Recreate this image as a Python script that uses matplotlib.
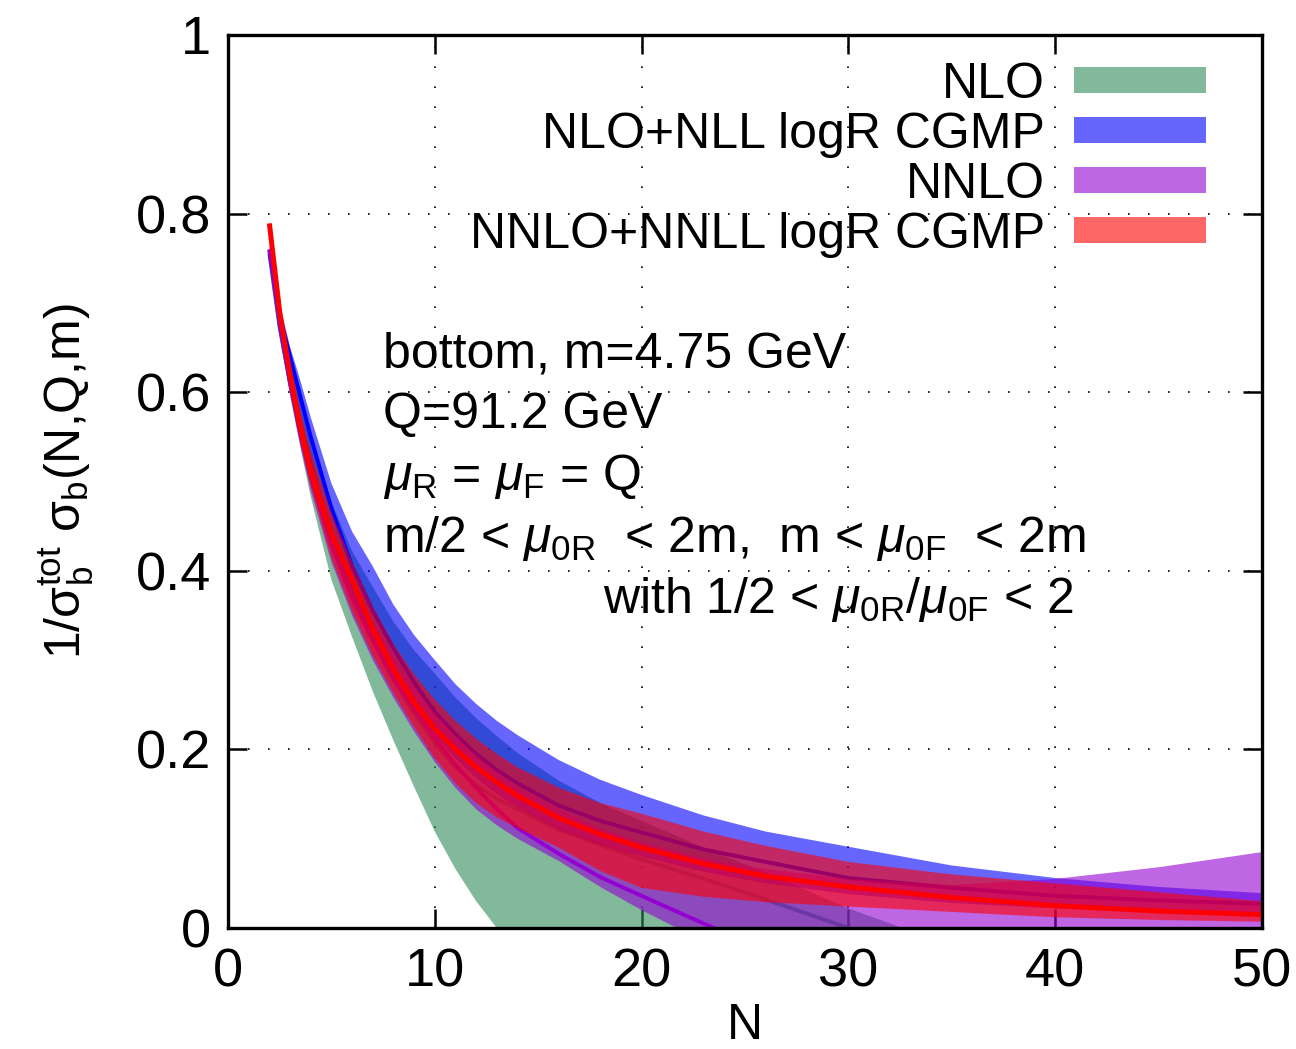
import matplotlib
matplotlib.use("Agg")
import matplotlib.pyplot as plt
from matplotlib.patches import Rectangle

# ---------------- data ----------------
N = [2, 2.5, 3, 3.5, 4, 5, 6, 7, 8, 9, 10, 11, 12, 13, 14, 16, 18, 20, 23, 26, 30, 35, 40, 45, 50]

# NLO band (green)
nlo_lo = [0.752, 0.67, 0.596, 0.538, 0.483, 0.39, 0.326, 0.265, 0.21, 0.158, 0.108, 0.066, 0.03,
          0.0, -0.03, -0.09, -0.15, -0.21, -0.30, -0.39, -0.50, -0.62, -0.74, -0.86, -0.98]
nlo_hi = [0.758, 0.685, 0.632, 0.592, 0.552, 0.477, 0.422, 0.382, 0.343, 0.311, 0.285, 0.258, 0.235,
          0.215, 0.196, 0.165, 0.14, 0.12, 0.09, 0.062, 0.022, -0.02, -0.06, -0.10, -0.14]
nlo_c = [0.755, 0.672, 0.61, 0.563, 0.52, 0.44, 0.375, 0.322, 0.278, 0.24, 0.208, 0.18, 0.16,
         0.145, 0.133, 0.11, 0.093, 0.077, 0.055, 0.032, 0.0, -0.04, -0.08, -0.12, -0.16]

# NLO+NLL logR CGMP band (blue)
nll_lo = [0.755, 0.67, 0.61, 0.56, 0.52, 0.44, 0.375, 0.325, 0.283, 0.246, 0.215, 0.19, 0.168,
          0.15, 0.135, 0.11, 0.093, 0.08, 0.063, 0.05, 0.038, 0.028, 0.022, 0.018, 0.015]
nll_hi = [0.762, 0.699, 0.651, 0.613, 0.572, 0.498, 0.444, 0.405, 0.362, 0.328, 0.30, 0.273, 0.251,
          0.232, 0.216, 0.188, 0.166, 0.149, 0.126, 0.108, 0.091, 0.07, 0.056, 0.046, 0.039]
nll_c = [0.759, 0.685, 0.64, 0.595, 0.55, 0.47, 0.405, 0.355, 0.313, 0.275, 0.242, 0.217, 0.195,
         0.177, 0.162, 0.137, 0.12, 0.107, 0.088, 0.074, 0.056, 0.045, 0.036, 0.031, 0.027]

# NNLO band (purple)
nnlo_lo = [0.755, 0.668, 0.60, 0.54, 0.49, 0.41, 0.35, 0.30, 0.258, 0.22, 0.186, 0.157, 0.133,
           0.115, 0.10, 0.075, 0.046, 0.02, -0.015, -0.05, -0.09, -0.13, -0.17, -0.20, -0.23]
nnlo_hi = [0.765, 0.685, 0.62, 0.565, 0.52, 0.45, 0.395, 0.345, 0.305, 0.27, 0.24, 0.215, 0.193,
           0.175, 0.158, 0.133, 0.112, 0.096, 0.078, 0.066, 0.055, 0.048, 0.055, 0.068, 0.085]
nnlo_c = [0.76, 0.675, 0.61, 0.553, 0.505, 0.43, 0.37, 0.322, 0.28, 0.245, 0.212, 0.183, 0.157,
          0.133, 0.112, 0.083, 0.057, 0.036, 0.005, -0.025, -0.06, -0.10, -0.14, -0.18, -0.22]

# NNLO+NNLL logR CGMP band (red)
nnll_lo = [0.786, 0.68, 0.605, 0.545, 0.495, 0.415, 0.355, 0.305, 0.263, 0.225, 0.19, 0.162, 0.14,
           0.124, 0.112, 0.09, 0.064, 0.045, 0.035, 0.029, 0.024, 0.018, 0.012, 0.009, 0.007]
nnll_hi = [0.792, 0.70, 0.635, 0.58, 0.535, 0.465, 0.41, 0.36, 0.318, 0.284, 0.256, 0.232, 0.212,
           0.195, 0.18, 0.157, 0.14, 0.128, 0.108, 0.092, 0.074, 0.06, 0.05, 0.04, 0.03]
nnll_c = [0.789, 0.69, 0.62, 0.56, 0.512, 0.442, 0.39, 0.335, 0.29, 0.253, 0.223, 0.20, 0.18,
          0.163, 0.148, 0.123, 0.105, 0.09, 0.072, 0.058, 0.046, 0.034, 0.025, 0.019, 0.015]

labels = ["NLO", "NLO+NLL logR CGMP", "NNLO", "NNLO+NNLL logR CGMP"]
colors = ["#2e8b57", "#0000ff", "#9400d3", "#ff0000"]
bands = [(nlo_lo, nlo_hi, nlo_c), (nll_lo, nll_hi, nll_c),
         (nnlo_lo, nnlo_hi, nnlo_c), (nnll_lo, nnll_hi, nnll_c)]

xticks = [0, 10, 20, 30, 40, 50]
yticks = [0, 0.2, 0.4, 0.6, 0.8, 1]
yticklabels = ["0", "0.2", "0.4", "0.6", "0.8", "1"]

info_lines = ["bottom, m=4.75 GeV",
              "Q=91.2 GeV",
              r"$\mu_{\rm R}$ = $\mu_{\rm F}$ = Q",
              r"m/2 < $\mu_{\rm 0R}$  < 2m,  m < $\mu_{\rm 0F}$  < 2m"]
info_last = r"with 1/2 < $\mu_{\rm 0R}$/$\mu_{\rm 0F}$ < 2"

# ---------------- style ----------------
FONT = "Liberation Sans"
plt.rcParams["font.family"] = [FONT, "DejaVu Sans"]
plt.rcParams["mathtext.fontset"] = "custom"
plt.rcParams["mathtext.rm"] = FONT
plt.rcParams["mathtext.it"] = FONT + ":italic"
plt.rcParams["mathtext.bf"] = FONT + ":bold"
FS = 36
FS_TICK = 39

W, H = 1296, 1049
fig = plt.figure(figsize=(W / 100, H / 100), dpi=100)
L, R, B, T = 228, 1262, 928, 35
ax = fig.add_axes([L / W, (H - B) / H, (R - L) / W, (B - T) / H])

lw_line = [2.8, 2.8, 2.8, 3.6]
for (lo, hi, c), col, lw in zip(bands, colors, lw_line):
    ax.fill_between(N, lo, hi, facecolor=col, alpha=0.6, linewidth=0, zorder=2)
    ax.plot(N, c, color=col, lw=lw, zorder=2, solid_capstyle="butt",
            solid_joinstyle="round")

ax.set_xlim(0, 50)
ax.set_ylim(0, 1)
ax.set_xticks(xticks)
ax.set_xticklabels([str(t) for t in xticks])
ax.set_yticks(yticks)
ax.set_yticklabels(yticklabels)
ax.set_axisbelow(True)
ax.grid(True, color="black", linestyle=(0, (1, 11)), linewidth=1.2)
ax.tick_params(direction="in", length=14, width=1.8, labelsize=FS_TICK, pad=12,
               top=True, right=True)
ax.tick_params(axis="x", pad=14)
for s in ax.spines.values():
    s.set_linewidth(2.4)
    s.set_zorder(5)

ax.set_xlabel("N", fontsize=FS, va="center")
ax.xaxis.set_label_coords(0.5, -(1026 - B) / (B - T))
ax.set_ylabel(r"1/$\mathrm{\sigma}_{\rm b}^{\rm tot}$ $\mathrm{\sigma}_{\rm b}$(N,Q,m)",
              fontsize=FS, va="center")
ax.yaxis.set_label_coords(-(L - 66) / (R - L), 0.5)


def fx(px):
    return (px - L) / (R - L)


def fy(py):
    return (B - py) / (B - T)


baselines = [368, 428, 490, 552]
for txt, yb in zip(info_lines, baselines):
    ax.text(fx(383), fy(yb), txt, transform=ax.transAxes, fontsize=FS,
            ha="left", va="baseline", zorder=6)
ax.text(fx(603), fy(613), info_last, transform=ax.transAxes, fontsize=FS,
        ha="left", va="baseline", zorder=6)

# legend (drawn manually)
rows = [80, 130, 180, 230]
for lab, col, yc in zip(labels, colors, rows):
    ax.text(fx(1045), fy(yc + 18), lab, transform=ax.transAxes, fontsize=FS,
            ha="right", va="baseline", zorder=6)
    ax.add_patch(Rectangle((fx(1074), fy(yc + 13)), fx(1206) - fx(1074),
                           fy(yc - 13) - fy(yc + 13), transform=ax.transAxes,
                           facecolor=col, alpha=0.6, linewidth=0, zorder=6))

fig.savefig("out.png", dpi=100)
